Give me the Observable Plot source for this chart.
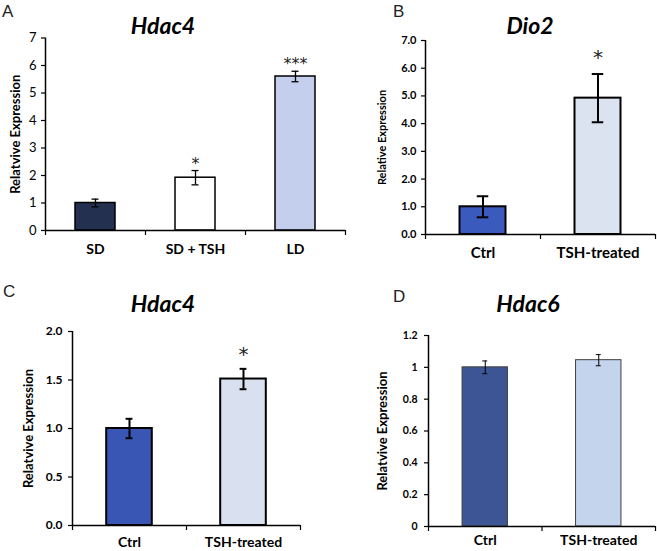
<!DOCTYPE html>
<html>
<head>
<meta charset="utf-8">
<script src="https://cdn.jsdelivr.net/npm/d3@7"></script>
<script src="https://cdn.jsdelivr.net/npm/@observablehq/plot@0.6"></script>
<style>
  body { margin: 0; background: white; }
  #fig { position: relative; width: 657px; height: 551px; overflow: hidden; background: white; }
  .panel { position: absolute; }
  .letter { position: absolute; font-family: "Liberation Sans", Arial, sans-serif; font-size: 17px; color: #222; transform: translate(0, -50%); }
  .title { position: absolute; font-family: Lato, sans-serif; font-weight: bold; font-style: italic; font-size: 23px; color: #000; transform: translate(-50%, -50%); white-space: nowrap; }
</style>
</head>
<body>
<div id="fig"></div>
<script>
// ---------- DATA ----------
const catsA = ["SD", "SD + TSH", "LD"];
const valsA = [1.0, 1.92, 5.6];
const errsA = [0.14, 0.26, 0.19];
const starsA = ["", "*", "***"];
const ticksA = [0, 1, 2, 3, 4, 5, 6, 7];

const catsB = ["Ctrl", "TSH-treated"];
const valsB = [1.0, 4.92];
const errsB = [0.38, 0.87];
const starsB = ["", "*"];
const ticksB = [0, 1, 2, 3, 4, 5, 6, 7];

const catsC = ["Ctrl", "TSH-treated"];
const valsC = [1.0, 1.51];
const errsC = [0.1, 0.105];
const starsC = ["", "*"];
const ticksC = [0, 0.5, 1.0, 1.5, 2.0];

const catsD = ["Ctrl", "TSH-treated"];
const valsD = [1.0, 1.045];
const errsD = [0.04, 0.035];
const starsD = ["", ""];
const ticksD = [0, 0.2, 0.4, 0.6, 0.8, 1.0, 1.2];

const panels = [
  { letter: "A", title: "Hdac4", cats: catsA, vals: valsA, errs: errsA, stars: starsA, ticks: ticksA,
    ylabel: "Relatvive Expression",
    left: 0, top: 0, width: 350, height: 270, mL: 45, mR: 5, mT: 37.5, mB: 40,
    letterPos: [2, 12], titlePos: [163, 25],
    fills: ["#24304f", "#ffffff", "#c3cfec"], stroke: "#000", barSW: 1.5,
    tickFmt: d3.format("d"), tickFont: 13, tickWeight: "normal", tickSize: 4, tickPad: 5,
    catFont: 14, catPad: 14, labelFont: 13, labelDx: -30,
    errSW: 1.3, capHalf: 0.035, starFont: 16, starDy: -2 },
  { letter: "B", title: "Dio2", cats: catsB, vals: valsB, errs: errsB, stars: starsB, ticks: ticksB,
    ylabel: "Relative Expression",
    left: 330, top: 0, width: 327, height: 270, mL: 95, mR: 2, mT: 40, mB: 36,
    letterPos: [63, 12], titlePos: [200, 25],
    fills: ["#3a5bbd", "#dbe3f1"], stroke: "#000", barSW: 2,
    tickFmt: d3.format(".1f"), tickFont: 11, tickWeight: "bold", tickSize: 4, tickPad: 5,
    catFont: 15, catPad: 13, labelFont: 11, labelDx: -43,
    errSW: 2, capHalf: 0.05, starFont: 20, starDy: -10 },
  { letter: "C", title: "Hdac4", cats: catsC, vals: valsC, errs: errsC, stars: starsC, ticks: ticksC,
    ylabel: "Relatvive Expression",
    left: 0, top: 270, width: 310, height: 281, mL: 72, mR: 10, mT: 61, mB: 26,
    letterPos: [3, 22], titlePos: [163, 33],
    fills: ["#3a56b4", "#d9e1f0"], stroke: "#000", barSW: 2,
    tickFmt: d3.format(".1f"), tickFont: 12, tickWeight: "bold", tickSize: 4, tickPad: 6,
    catFont: 14, catPad: 12, labelFont: 13, labelDx: -44,
    errSW: 2, capHalf: 0.03, starFont: 20, starDy: -8 },
  { letter: "D", title: "Hdac6", cats: catsD, vals: valsD, errs: errsD, stars: starsD, ticks: ticksD,
    ylabel: "Relatvive Expression",
    left: 330, top: 270, width: 327, height: 281, mL: 98, mR: 2, mT: 65, mB: 25,
    letterPos: [63, 27], titlePos: [198, 33],
    fills: ["#3d5595", "#c4d4ec"], stroke: "#404040", barSW: 1,
    tickFmt: d3.format("~g"), tickFont: 10.5, tickWeight: "bold", tickSize: 4, tickPad: 7,
    catFont: 14, catPad: 9, labelFont: 13, labelDx: -46,
    errSW: 1, capHalf: 0.022, starFont: 18, starDy: -8 }
];

const fig = document.getElementById("fig");

for (const p of panels) {
  const n = p.cats.length;
  const data = p.cats.map((c, i) => ({ i, c, v: p.vals[i], e: p.errs[i], s: p.stars[i], f: p.fills[i] }));
  const caps = data.flatMap(d => [{ ...d, y: d.v - d.e }, { ...d, y: d.v + d.e }]);
  const ymax = p.ticks[p.ticks.length - 1];

  const chart = Plot.plot({
    width: p.width, height: p.height,
    marginLeft: p.mL, marginRight: p.mR, marginTop: p.mT, marginBottom: p.mB,
    x: { domain: [0, n], axis: null },
    y: { domain: [0, ymax], axis: null },
    color: { type: "identity" },
    style: { fontFamily: "Lato, sans-serif", color: "#000", background: "transparent", overflow: "visible" },
    marks: [
      Plot.rectY(data, { x1: d => d.i + 0.3, x2: d => d.i + 0.7, y1: 0, y2: "v", fill: "f", stroke: p.stroke, strokeWidth: p.barSW }),
      Plot.ruleX(data, { x: d => d.i + 0.5, y1: d => d.v - d.e, y2: d => d.v + d.e, stroke: "#000", strokeWidth: p.errSW }),
      Plot.ruleY(caps, { y: "y", x1: d => d.i + 0.5 - p.capHalf, x2: d => d.i + 0.5 + p.capHalf, stroke: "#000", strokeWidth: p.errSW }),
      Plot.text(data.filter(d => d.s), { x: d => d.i + 0.5, y: d => d.v + d.e, text: "s", dy: p.starDy, lineAnchor: "bottom", fontSize: p.starFont, fontFamily: "DejaVu Sans", fill: "#222" }),
      Plot.axisY({ ticks: p.ticks, tickSize: p.tickSize, tickPadding: p.tickPad, tickFormat: p.tickFmt, fontSize: p.tickFont, fontWeight: p.tickWeight, label: null, stroke: "#000", strokeWidth: 1.2 }),
      Plot.axisX({ ticks: d3.range(n + 1), tickSize: 5, tickFormat: () => "", label: null, stroke: "#000", strokeWidth: 1.2 }),
      Plot.axisX({ ticks: d3.range(n).map(i => i + 0.5), tickSize: 0, tickPadding: p.catPad, tickFormat: d => p.cats[Math.floor(d)], fontSize: p.catFont, fontWeight: "bold", label: null }),
      Plot.ruleX([0], { stroke: "#000", strokeWidth: 1.5 }),
      Plot.ruleY([0], { stroke: "#000", strokeWidth: 1.5 }),
      Plot.text([p.ylabel], { frameAnchor: "left", rotate: -90, dx: p.labelDx, fontSize: p.labelFont, fontWeight: "bold", textAnchor: "middle", fill: "#000" })
    ]
  });

  const wrap = document.createElement("div");
  wrap.className = "panel";
  wrap.style.left = p.left + "px";
  wrap.style.top = p.top + "px";
  wrap.style.width = p.width + "px";
  wrap.style.height = p.height + "px";
  wrap.appendChild(chart);

  const letter = document.createElement("div");
  letter.className = "letter";
  letter.textContent = p.letter;
  letter.style.left = p.letterPos[0] + "px";
  letter.style.top = p.letterPos[1] + "px";
  wrap.appendChild(letter);

  const title = document.createElement("div");
  title.className = "title";
  title.textContent = p.title;
  title.style.left = p.titlePos[0] + "px";
  title.style.top = p.titlePos[1] + "px";
  wrap.appendChild(title);

  fig.appendChild(wrap);
}
</script>
</body>
</html>
